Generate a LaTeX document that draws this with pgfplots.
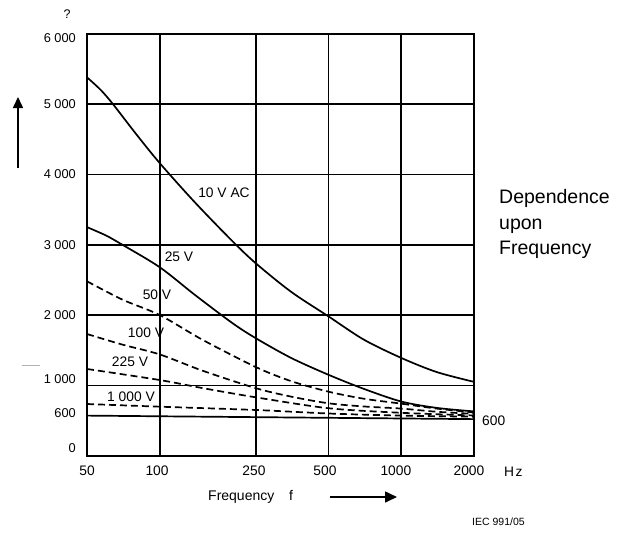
\documentclass[border=0pt]{standalone}
\usepackage{fontspec}
\setmainfont{Liberation Sans}
\usepackage{pgfplots}
\pgfplotsset{compat=1.18}
\usetikzlibrary{arrows.meta}
\newcommand{\fs}[1]{\fontsize{#1bp}{1.2\dimexpr#1bp\relax}\selectfont}
\begin{document}
\begin{tikzpicture}
\path[use as bounding box] (0,0) rectangle (619bp,-533bp);
\begin{axis}[
  anchor=south west, at={(87bp,-455.7bp)},
  scale only axis, width=387bp, height=422bp,
  xmode=log, xmin=50, xmax=2000, ymin=0, ymax=6000,
  xtick={50,97.5,245.6,483,950,1906},
  xticklabels={50,100,250,500,1000,2000},
  ytick={110,600,1095,2000,3000,4000,5000,5932},
  yticklabels={0,600,1 000,2 000,3 000,4 000,5 000,6 000},
  extra x ticks={100,250,500,1000},
  extra x tick labels={},
  extra x tick style={grid=major},
  extra y ticks={1000,2000,3000,4000,5000},
  extra y tick labels={},
  extra y tick style={grid=major},
  major tick length=0pt, minor tick num=0,
  major grid style={black, line width=1.7bp},
  axis line style={line width=1.7bp},
  xticklabel style={anchor=north, inner sep=0pt, yshift=-10.3bp, font=\fs{13.8}},
  yticklabel style={anchor=east, inner sep=0pt, xshift=-11bp, font=\fs{12.8}},
  cycle list={{black, no markers}},
  clip=true,
]
% 10 V AC
\addplot[black, no markers, line width=1.7bp, smooth, tension=0.5] coordinates {(50,5380) (57,5200) (64,5000) (80,4570) (100,4160) (140,3600) (200,3050) (250,2735) (350,2330) (500,1980) (700,1650) (1000,1390) (1400,1190) (2000,1050)};
% 25 V
\addplot[black, no markers, line width=1.7bp, smooth, tension=0.5] coordinates {(50,3250) (60,3130) (70,3000) (100,2680) (140,2285) (200,1885) (250,1670) (350,1390) (500,1150) (700,950) (1000,770) (1400,680) (2000,630)};
% 50 V
\addplot[black, no markers, line width=1.7bp, smooth, tension=0.5, dash pattern=on 7bp off 4bp] coordinates {(50,2480) (70,2220) (100,2000) (150,1650) (250,1260) (350,1060) (500,910) (700,810) (1000,740) (1400,670) (2000,615)};
% 100 V
\addplot[black, no markers, line width=1.7bp, smooth, tension=0.5, dash pattern=on 7bp off 4bp] coordinates {(50,1730) (70,1580) (100,1440) (150,1210) (250,960) (350,840) (500,745) (700,700) (1000,670) (1400,625) (2000,595)};
% 225 V
\addplot[black, no markers, line width=1.7bp, smooth, tension=0.5, dash pattern=on 7bp off 4bp] coordinates {(50,1233) (100,1076) (150,962) (250,830) (500,675) (1000,610) (2000,572)};
% 1000 V
\addplot[black, no markers, line width=1.7bp, smooth, tension=0.5, dash pattern=on 7bp off 4bp] coordinates {(50,735) (100,697) (250,650) (500,600) (1000,570) (2000,555)};
% 600 limit
\addplot[black, no markers, line width=1.7bp, sharp plot] coordinates {(50,570) (2000,520)};
\end{axis}
% curve labels
\node[font=\fs{13.8}] at (224bp,-193bp) {10 V AC};
\node[font=\fs{13.8}] at (179bp,-257bp) {25 V};
\node[font=\fs{13.8}] at (157bp,-295bp) {50 V};
\node[font=\fs{13.8}] at (146bp,-333bp) {100 V};
\node[font=\fs{13.8}] at (130bp,-362bp) {225 V};
\node[font=\fs{13.8}] at (131bp,-397bp) {1 000 V};
\node[font=\fs{13.8}, anchor=west, inner sep=0pt] at (482bp,-421bp) {600};
% other texts
\node[font=\fs{12.5}] at (67bp,-14bp) {?};
\node[font=\fs{19.5}, anchor=base west, inner sep=0pt] at (499bp,-203bp) {Dependence};
\node[font=\fs{19.5}, anchor=base west, inner sep=0pt] at (499bp,-229bp) {upon};
\node[font=\fs{19.5}, anchor=base west, inner sep=0pt] at (499bp,-254bp) {Frequency};
\node[font=\fs{13.8}, anchor=west, inner sep=0pt] at (504bp,-472bp) {H\kern1.5bp z};
\node[font=\fs{14}, anchor=base west, inner sep=0pt] at (208bp,-500bp) {Frequency};
\node[font=\fs{14}, anchor=base west, inner sep=0pt] at (289bp,-500bp) {f};
\node[font=\fs{10.5}, anchor=west, inner sep=0pt] at (472bp,-522bp) {IEC 991/05};
% arrows
\draw[line width=1.6bp, -{Triangle[length=11bp,width=10bp]}] (18bp,-168bp) -- (18bp,-97bp);
\draw[line width=1.6bp, -{Triangle[length=12bp,width=11bp]}] (330bp,-497bp) -- (397bp,-497bp);
\draw[gray!60, line width=0.8bp] (22bp,-365bp) -- (40bp,-365bp);
\end{tikzpicture}
\end{document}
